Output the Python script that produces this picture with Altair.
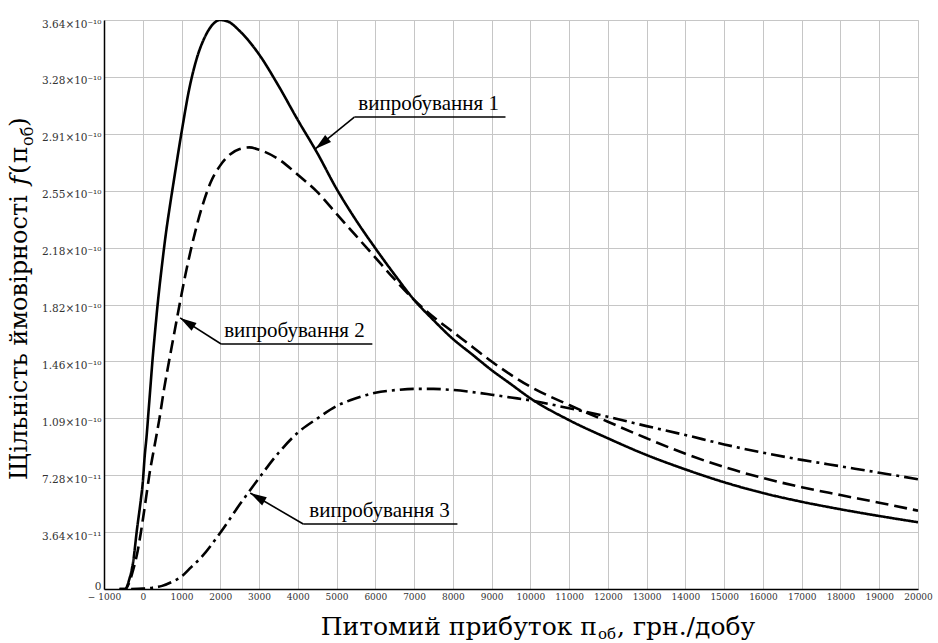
import math
import altair as alt
import pandas as pd

# ---------------- data ----------------
X_TICKS = [-1000, 0, 1000, 2000, 3000, 4000, 5000, 6000, 7000, 8000, 9000, 10000,
           11000, 12000, 13000, 14000, 15000, 16000, 17000, 18000, 19000, 20000]
Y_TICKS = [0, 3.64e-11, 7.28e-11, 1.092e-10, 1.456e-10, 1.82e-10, 2.184e-10,
           2.548e-10, 2.912e-10, 3.276e-10, 3.64e-10]
Y_TICK_LABELS = ["0", "3.64×10⁻¹¹", "7.28×10⁻¹¹", "1.09×10⁻¹⁰", "1.46×10⁻¹⁰",
                 "1.82×10⁻¹⁰", "2.18×10⁻¹⁰", "2.55×10⁻¹⁰", "2.91×10⁻¹⁰",
                 "3.28×10⁻¹⁰", "3.64×10⁻¹⁰"]

# випробування 1 (solid), density in units of 1e-10
x1 = [-600, -450, -350, -250, -150, -50, 0, 50, 100, 150, 200, 250, 300, 400, 500,
      600, 700, 800, 1000, 1200, 1400, 1600, 1800, 2000, 2200, 2500, 3000, 3500,
      4000, 4500, 5000, 5500, 6000, 6500, 7000, 7500, 8000, 8500, 9000, 9500,
      10000, 11000, 12000, 13000, 14000, 15000, 16000, 17000, 18000, 19000, 20000]
y1 = [0, 0, 0.06, 0.17, 0.38, 0.57, 0.68, 0.85, 0.98, 1.14, 1.30, 1.46, 1.60, 1.86,
      2.08, 2.28, 2.45, 2.61, 2.92, 3.20, 3.40, 3.53, 3.61, 3.64, 3.63, 3.57, 3.42,
      3.22, 3.00, 2.79, 2.56, 2.36, 2.18, 2.01, 1.85, 1.72, 1.60, 1.50, 1.40, 1.31,
      1.22, 1.08, 0.964, 0.857, 0.765, 0.683, 0.614, 0.558, 0.510, 0.467, 0.427]

# випробування 2 (dashed)
x2 = [-600, -450, -350, -250, -150, -50, 0, 100, 170, 300, 430, 550, 680, 800, 950,
      1100, 1250, 1500, 1750, 2000, 2250, 2500, 2750, 3000, 3500, 4000, 4500, 5000,
      5500, 6000, 6500, 7000, 7500, 8000, 8500, 9000, 9500, 10000, 11000, 12000,
      13000, 14000, 15000, 16000, 17000, 18000, 19000, 20000]
y2 = [0, 0, 0.04, 0.12, 0.22, 0.36, 0.44, 0.61, 0.73, 0.91, 1.09, 1.28, 1.46, 1.62,
      1.82, 2.01, 2.18, 2.42, 2.60, 2.71, 2.78, 2.815, 2.825, 2.81, 2.75, 2.65, 2.54,
      2.40, 2.26, 2.12, 1.98, 1.85, 1.74, 1.645, 1.55, 1.455, 1.37, 1.294, 1.177,
      1.07, 0.964, 0.865, 0.78, 0.71, 0.651, 0.601, 0.552, 0.501]

# випробування 3 (dash-dot)
x3 = [-300, 0, 250, 500, 750, 1000, 1250, 1500, 2000, 2500, 3000, 3500, 4000, 4500,
      5000, 5500, 6000, 6500, 7000, 7500, 8000, 8500, 9000, 9500, 10000, 11000,
      12000, 13000, 14000, 15000, 16000, 17000, 18000, 19000, 20000]
y3 = [0, 0.003, 0.008, 0.02, 0.045, 0.08, 0.14, 0.20, 0.36, 0.54, 0.71, 0.87, 1.00,
      1.09, 1.17, 1.22, 1.255, 1.272, 1.28, 1.28, 1.273, 1.26, 1.243, 1.225, 1.207,
      1.156, 1.102, 1.042, 0.985, 0.925, 0.872, 0.826, 0.785, 0.744, 0.702]

SERIES = ["випробування 1", "випробування 2", "випробування 3"]

# annotations: arrow tip, elbow, end of underline, text anchor (data units)
ANN_LABELS = ["випробування 1", "випробування 2", "випробування 3"]
ANN_TIP_X = [4450, 963, 2771]
ANN_TIP_Y = [2.815e-10, 1.734e-10, 0.614e-10]
ANN_ELBOW_X = [5458, 2022, 4140]
ANN_ELBOW_Y = [3.019e-10, 1.567e-10, 0.416e-10]
ANN_END_X = [9358, 5923, 8118]
ANN_TEXT_X = [5561, 2100, 4295]
ANN_TEXT_Y = [3.064e-10, 1.612e-10, 0.461e-10]

# ---------------- layout ----------------
W, H = 814, 569
XMIN, XMAX = -1000, 20000
YMIN, YMAX = 0, 3.64e-10

rows = []
for name, xs, ys in zip(SERIES, [x1, x2, x3], [y1, y2, y3]):
    for xv, yv in zip(xs, ys):
        rows.append({"series": name, "x": xv, "y": yv * 1e-10})
df = pd.DataFrame(rows)

xscale = alt.Scale(domain=[XMIN, XMAX], nice=False, zero=False)
yscale = alt.Scale(domain=[YMIN, YMAX], nice=False, zero=False)

label_arr = "[" + ",".join("'" + s + "'" for s in Y_TICK_LABELS) + "]"

x_axis = alt.Axis(values=X_TICKS, title=None, grid=True, ticks=False,
                  labelFont="DejaVu Serif", labelFontSize=9,
                  labelColor="#333333", labelPadding=3,
                  labelFlush=False, labelOverlap=False,
                  labelExpr="datum.value < 0 ? '− ' + format(-datum.value, 'd') : format(datum.value, 'd')",
                  domainColor="black", domainWidth=1.5,
                  gridColor="#c6c6c6", gridWidth=1)
y_axis = alt.Axis(values=Y_TICKS, title=None, grid=True, ticks=False,
                  labelFont="DejaVu Serif", labelFontSize=10.5,
                  labelColor="#333333", labelPadding=3,
                  labelBaseline="alphabetic",
                  labelOffset={"condition": {"test": "datum.value === 0", "value": 0},
                               "value": 7},
                  labelFlush=False, labelOverlap=False,
                  labelExpr=label_arr + "[round(datum.value / 3.64e-11)]",
                  domainColor="black", domainWidth=1.5,
                  gridColor="#c6c6c6", gridWidth=1)


def X(field="x"):
    return alt.X(f"{field}:Q", scale=xscale, axis=x_axis)


def Y(field="y"):
    return alt.Y(f"{field}:Q", scale=yscale, axis=y_axis)


lines = alt.Chart(df).mark_line(
    color="black", strokeWidth=2.6, interpolate="monotone", clip=True
).encode(
    x=X(), y=Y(),
    detail="series:N",
    strokeDash=alt.StrokeDash("series:N",
                              scale=alt.Scale(domain=SERIES,
                                              range=[[1, 0], [13, 6], [14, 5, 3, 5]]),
                              legend=None),
)

# annotation segments
seg_rows = []
for i in range(3):
    seg_rows.append({"x": ANN_TIP_X[i], "y": ANN_TIP_Y[i], "x2": ANN_ELBOW_X[i], "y2": ANN_ELBOW_Y[i]})
    seg_rows.append({"x": ANN_ELBOW_X[i], "y": ANN_ELBOW_Y[i], "x2": ANN_END_X[i], "y2": ANN_ELBOW_Y[i]})
segs = alt.Chart(pd.DataFrame(seg_rows)).mark_rule(color="black", strokeWidth=1.6).encode(
    x=X(), y=Y(), x2="x2:Q", y2="y2:Q")

# arrowheads
px_per_x = W / (XMAX - XMIN)
px_per_y = H / (YMAX - YMIN)
head_rows = []
for i in range(3):
    dx = (ANN_ELBOW_X[i] - ANN_TIP_X[i]) * px_per_x
    dy = -(ANN_ELBOW_Y[i] - ANN_TIP_Y[i]) * px_per_y
    ang = math.degrees(math.atan2(-dx, dy)) % 360
    head_rows.append({"x": ANN_TIP_X[i], "y": ANN_TIP_Y[i], "angle": ang})
heads = alt.Chart(pd.DataFrame(head_rows)).mark_point(
    shape="M0,0 L-0.28,1 L0.28,1 Z", filled=True, color="black", opacity=1,
    size=1100, strokeWidth=0
).encode(x=X(), y=Y(), angle=alt.Angle("angle:Q", scale=None))

ann_text = alt.Chart(pd.DataFrame({"x": ANN_TEXT_X, "y": ANN_TEXT_Y, "t": ANN_LABELS})).mark_text(
    align="left", baseline="alphabetic", font="Liberation Serif", fontSize=21, color="black"
).encode(x=X(), y=Y(), text="t:N")


def piece(s, x, y, size, angle=0, align="left", style="normal", font="DejaVu Serif"):
    kw = dict(align=align, baseline="alphabetic", font=font, fontSize=size,
              fontStyle=style, color="black")
    if angle:
        kw["angle"] = angle
    return alt.Chart(pd.DataFrame({"t": [s]})).mark_text(**kw).encode(
        x=alt.value(x), y=alt.value(y), text="t:N")


# axis titles composed from pieces (for the subscript "об")
title_pieces = [
    piece("Питомий прибуток п", 493, 615, 25, align="right"),
    piece("об", 494, 619, 15),
    piece(", грн./добу", 513, 615, 25),
    piece("Щільність ймовірності", -77, 460, 24, angle=270),
    piece("f", -77, 165, 25, angle=270, style="italic"),
    piece("(", -77, 154, 25, angle=270),
    piece("п", -77, 143, 25, angle=270),
    piece("об", -71, 126, 16, angle=270),
    piece(")", -77, 107, 25, angle=270),
]

chart = alt.layer(lines, segs, heads, ann_text, *title_pieces).properties(
    width=W, height=H,
    autosize=alt.AutoSizeParams(type="none"),
    padding={"left": 104, "top": 20, "right": 20, "bottom": 54},
).configure_view(stroke="black", strokeWidth=1).configure(
    background="white"
).configure_axis(labelOverlap=False, labelFlush=False)

chart.save("out.html", embed_options={"renderer": "svg", "actions": False})
